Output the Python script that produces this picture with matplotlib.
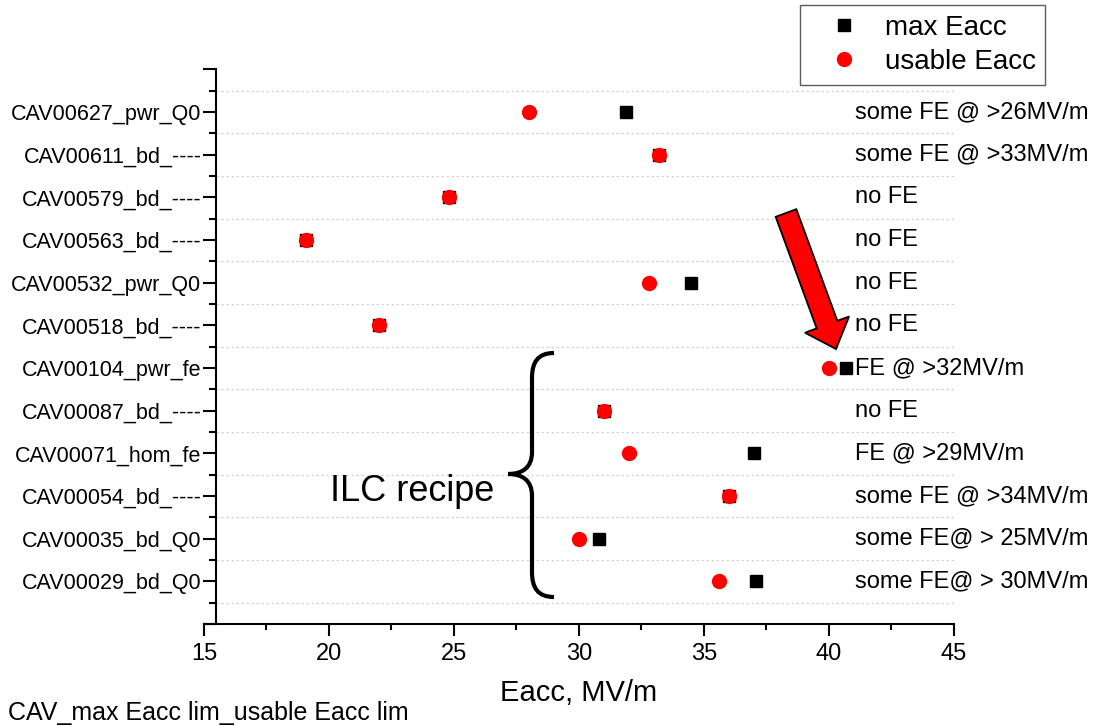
import matplotlib
matplotlib.use("Agg")
import matplotlib.pyplot as plt
from matplotlib.path import Path
from matplotlib.patches import PathPatch, FancyArrow
import numpy as np

plt.rcParams['font.family'] = ['Liberation Sans', 'DejaVu Sans']

# bottom -> top
cavities = ['CAV00029_bd_Q0', 'CAV00035_bd_Q0', 'CAV00054_bd_----', 'CAV00071_hom_fe',
            'CAV00087_bd_----', 'CAV00104_pwr_fe', 'CAV00518_bd_----', 'CAV00532_pwr_Q0',
            'CAV00563_bd_----', 'CAV00579_bd_----', 'CAV00611_bd_----', 'CAV00627_pwr_Q0']
max_eacc = [37.1, 30.8, 36.0, 37.0, 31.0, 40.7, 22.0, 34.5, 19.1, 24.8, 33.2, 31.9]
usable_eacc = [35.6, 30.0, 36.0, 32.0, 31.0, 40.0, 22.0, 32.8, 19.1, 24.8, 33.2, 28.0]
notes = ['some FE@ > 30MV/m', 'some FE@ > 25MV/m', 'some FE @ >34MV/m', 'FE @ >29MV/m',
         'no FE', 'FE @ >32MV/m', 'no FE', 'no FE', 'no FE', 'no FE',
         'some FE @ >33MV/m', 'some FE @ >26MV/m']
x_ticks = [15, 20, 25, 30, 35, 40, 45]

fig = plt.figure(figsize=(11.02, 7.26), dpi=100)
ax = fig.add_axes([0.1851, 0.1405, 0.6806, 0.7638])

ypos = np.arange(len(cavities))
ax.plot(max_eacc, ypos, 's', color='black', ms=9, ls='none', label='max Eacc', zorder=3)
ax.plot(usable_eacc, ypos, 'o', color='red', ms=10, ls='none', label='usable Eacc', zorder=4)

ax.set_xlim(15, 45)
ax.set_ylim(-1, len(cavities))

# y axis, Origin style
ax.set_yticks(np.arange(-1, len(cavities) + 1))
ax.set_yticklabels([''] + cavities + [''])
ax.set_yticks(np.arange(-0.5, len(cavities)), minor=True)
ax.set_xticks(x_ticks)
ax.set_xticks(np.arange(17.5, 45, 5), minor=True)

for s in ['top', 'right']:
    ax.spines[s].set_visible(False)
ax.spines['left'].set_position(('axes', 0.016))
ax.spines['left'].set_linewidth(1.5)
ax.spines['bottom'].set_linewidth(1.5)

ax.tick_params(axis='y', which='major', length=9.5, width=1.5, labelsize=15.5, pad=1)
ax.tick_params(axis='y', which='minor', length=5, width=1.5)
ax.tick_params(axis='x', which='major', length=8.6, width=1.5, labelsize=17, pad=5)
ax.tick_params(axis='x', which='minor', length=4.3, width=1.5)

for yg in np.arange(-0.5, len(cavities)):
    ax.axhline(yg, xmin=0.016, xmax=1.0, color='#d4d4d4', lw=0.9, ls=(0, (2, 2)), zorder=1)

ax.set_xlabel('Eacc, MV/m', fontsize=21, labelpad=10)

for i, note in enumerate(notes):
    ax.text(41.05, i, note, fontsize=17, va='center', ha='left', clip_on=False)

ax.text(20.04, 1.88, 'ILC recipe', fontsize=26, va='baseline', ha='left')

# brace, drawn in pixels (inches) of the figure
H = 726.0
def px(x, y):
    return (x / 100.0, (H - y) / 100.0)

verts = [px(554, 353), px(538, 353), px(532, 362), px(532, 378),
         px(532, 452), px(532, 468), px(522, 474), px(508, 474),
         px(522, 474), px(532, 480), px(532, 496),
         px(532, 572), px(532, 588), px(538, 597), px(554, 597)]
codes = [Path.MOVETO, Path.CURVE4, Path.CURVE4, Path.CURVE4,
         Path.LINETO, Path.CURVE4, Path.CURVE4, Path.CURVE4,
         Path.CURVE4, Path.CURVE4, Path.CURVE4,
         Path.LINETO, Path.CURVE4, Path.CURVE4, Path.CURVE4]
brace = PathPatch(Path(verts, codes), fc='none', ec='black', lw=3,
                  transform=fig.dpi_scale_trans, capstyle='butt')
fig.add_artist(brace)

# red arrow
x0, y0 = px(786, 213)
x1, y1 = px(836, 349)
arrow = FancyArrow(x0, y0, x1 - x0, y1 - y0, width=0.22, head_width=0.47,
                   head_length=0.26, length_includes_head=True,
                   fc='red', ec='black', lw=1.3, transform=fig.dpi_scale_trans)
fig.add_artist(arrow)

leg = ax.legend(loc='upper left', bbox_to_anchor=(0.726, 0.993), bbox_transform=fig.transFigure,
                borderaxespad=0, fontsize=20, frameon=True, fancybox=False, edgecolor='#333333',
                borderpad=0.35, handletextpad=0.2, labelspacing=0.3, handlelength=2.5)
leg.get_frame().set_linewidth(1.0)

fig.text(0.007, (H - 720) / H, 'CAV_max Eacc lim_usable Eacc lim', fontsize=18, va='baseline')

fig.savefig('out.png', dpi=100)
